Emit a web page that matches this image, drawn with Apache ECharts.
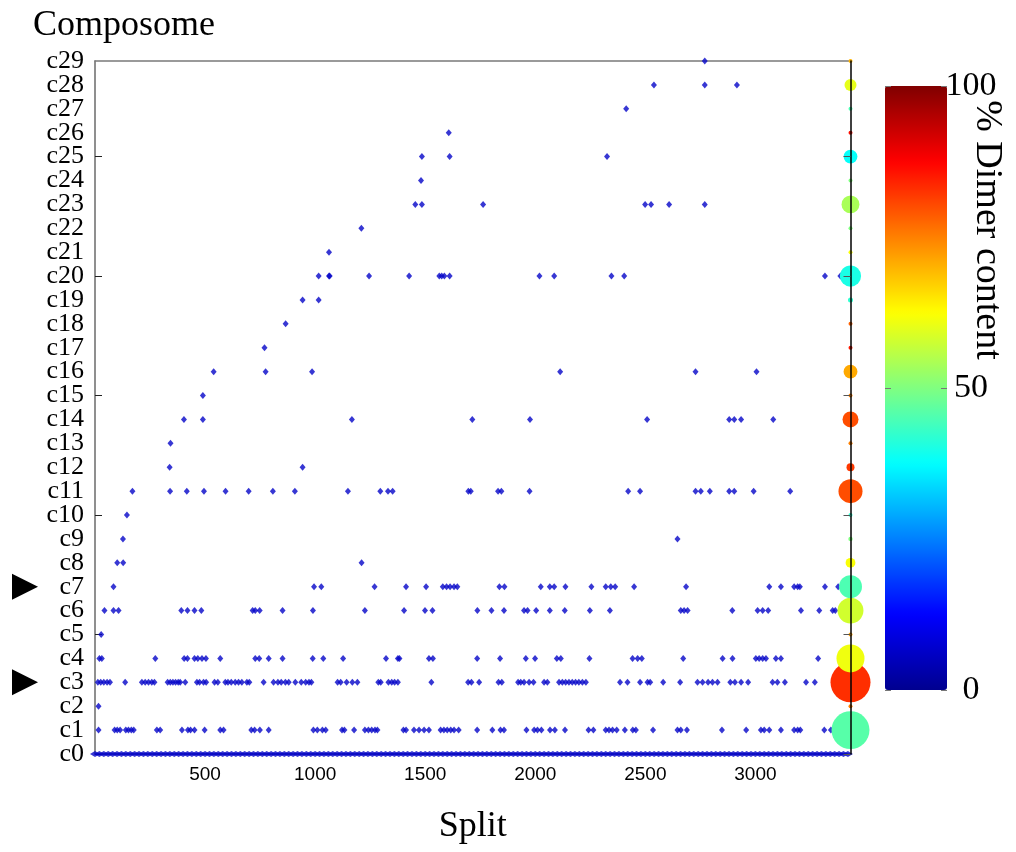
<!DOCTYPE html>
<html><head><meta charset="utf-8">
<script src="https://cdn.jsdelivr.net/npm/echarts@6/dist/echarts.min.js"></script>
<style>html,body{margin:0;padding:0;background:#fff}#c{width:1016px;height:852px}</style>
</head><body><div id="c"></div>
<script>
// ---------- data ----------
const composomes = ['c0','c1','c2','c3','c4','c5','c6','c7','c8','c9','c10','c11','c12','c13','c14','c15','c16','c17','c18','c19','c20','c21','c22','c23','c24','c25','c26','c27','c28','c29'];
const xTickLabels = [500, 1000, 1500, 2000, 2500, 3000];
const colorbarTicks = [0, 50, 100];
const arrowRows = ['c7', 'c3'];
const splitMax = 3432;

// split positions at which each composome is observed
const c0 = [0,20,40,60,80,100,120,140,160,180,200,220,240,260,280,300,320,340,360,380,400,420,440,460,480,500,520,540,560,580,600,620,640,660,680,700,720,740,760,780,800,820,840,860,880,900,920,940,960,980,1000,1020,1040,1060,1080,1100,1120,1140,1160,1180,1200,1220,1240,1260,1280,1300,1320,1340,1360,1380,1400,1420,1440,1460,1480,1500,1520,1540,1560,1580,1600,1620,1640,1660,1680,1700,1720,1740,1760,1780,1800,1820,1840,1860,1880,1900,1920,1940,1960,1980,2000,2020,2040,2060,2080,2100,2120,2140,2160,2180,2200,2220,2240,2260,2280,2300,2320,2340,2360,2380,2400,2420,2440,2460,2480,2500,2520,2540,2560,2580,2600,2620,2640,2660,2680,2700,2720,2740,2760,2780,2800,2820,2840,2860,2880,2900,2920,2940,2960,2980,3000,3020,3040,3060,3080,3100,3120,3140,3160,3180,3200,3220,3240,3260,3280,3300,3320,3340,3360,3380,3400,3420];
const c1 = [16,89,101,114,140,152,165,176,281,296,395,422,434,452,498,569,584,710,725,749,789,992,1010,1033,1048,1122,1133,1177,1226,1242,1257,1272,1283,1401,1413,1449,1472,1495,1517,1570,1585,1600,1616,1631,1652,1736,1805,1842,1858,1960,1995,2010,2028,2067,2089,2135,2242,2264,2320,2335,2351,2370,2407,2443,2457,2535,2646,2661,2689,2848,2958,3025,3040,3063,3116,3176,3192,3204,3313,3343];
const c2 = [16];
const c3 = [13,26,40,55,68,137,213,228,243,258,270,330,342,354,366,378,387,410,463,475,493,505,543,558,592,604,619,637,652,667,690,701,766,811,831,846,865,880,910,937,957,972,983,1102,1116,1143,1169,1192,1287,1298,1333,1348,1361,1376,1528,1695,1710,1745,1833,1848,1922,1934,1949,1972,1992,2040,2055,2108,2123,2138,2153,2168,2183,2198,2214,2230,2385,2419,2476,2510,2522,2581,2658,2737,2760,2785,2805,2828,2886,2907,2935,2967,3078,3100,3134,3230,3270];
const c4 = [20,31,274,405,420,452,467,486,504,569,728,746,789,852,989,1037,1127,1322,1376,1383,1517,1535,1736,1840,1957,1999,2098,2116,2246,2442,2465,2484,2672,2851,2896,3002,3017,3033,3048,3093,3116,3285];
const c5 = [28];
const c6 = [43,84,107,392,420,452,483,716,728,748,852,990,1226,1404,1499,1533,1737,1801,1858,1949,1965,2004,2066,2134,2248,2339,2661,2676,2692,2895,3010,3033,3058,3207,3290,3351,3363];
const c7 = [84,995,1028,1270,1413,1504,1580,1597,1613,1631,1646,1837,1860,2025,2066,2086,2137,2255,2320,2343,2363,2449,2685,3063,3116,3176,3192,3202,3316,3376];
const c8 = [101,128,1211];
const c9 = [127,2646];
const c10 = [145];
const c11 = [170,341,417,495,593,698,808,908,1149,1296,1331,1352,1696,1707,1831,1846,1974,2422,2476,2728,2752,2793,2881,2904,2992,3158];
const c12 = [339,943];
const c13 = [343];
const c14 = [404,490,1167,1714,1976,2508,2881,2904,2935,3081];
const c15 = [490];
const c16 = [539,775,986,2113,2728,3005];
const c17 = [770];
const c18 = [866];
const c19 = [943,1016];
const c20 = [1016,1063,1066,1245,1427,1564,1575,1587,1611,2019,2086,2346,2404,3316,3386];
const c21 = [1063];
const c22 = [1210];
const c23 = [1455,1485,1763,2499,2526,2608,2770];
const c24 = [1481];
const c25 = [1485,1611,2326];
const c26 = [1607];
const c27 = [2413];
const c28 = [2539,2770,2916];
const c29 = [2770];

// summary per composome: % dimer content and relative abundance
const dimerContent = [null,46,75,83,61,72,58,45,62,50,42,80,82,75,80,75,71,85,78,42,40,62,50,54,50,38,86,45,60,70];
const abundance    = [null,90,1,100,49,1,42,33,6,1.2,1,36,4,1,16,1,12,1,1,1.6,28,1,1,20,1,12,1,1,9,1];

// ---------- build ----------
const rows = [c1,c2,c3,c4,c5,c6,c7,c8,c9,c10,c11,c12,c13,c14,c15,c16,c17,c18,c19,c20,c21,c22,c23,c24,c25,c26,c27,c28,c29];
const points = [];
rows.forEach((r, i) => r.forEach(x => points.push([x, i + 1])));
const basePoints = c0.map(x => [x, 0]);
const bubbles = [];
composomes.forEach((c, i) => { if (dimerContent[i] != null) bubbles.push([splitMax, i, dimerContent[i], abundance[i]]); });

const jet = ['#00008f','#0000ff','#0080ff','#00ffff','#80ff80','#ffff00','#ff8000','#ff0000','#800000'];
const serif = '"Liberation Serif", "Times New Roman", serif';
const sans = '"Liberation Sans", Arial, sans-serif';
const every5 = (i) => i % 5 === 0;
const dimerLabel = {type: 'text', x: 987, y: 230, rotation: -Math.PI / 2,
  style: {text: '% Dimer content', font: '38px ' + serif, fill: '#000', align: 'center', verticalAlign: 'middle'}};

const chart = echarts.init(document.getElementById('c'), null, {renderer: 'canvas'});
chart.setOption({
  animation: false,
  backgroundColor: '#fff',
  title: {text: 'Composome', left: 33, top: 8, padding: 0,
    textStyle: {fontFamily: serif, fontSize: 36, fontWeight: 'normal', color: '#000'}},
  grid: [
    {left: 95, top: 61, width: 755.5, height: 693, outerBoundsMode: 'none', containLabel: false},
    {left: 885, top: 86, width: 62, height: 604, outerBoundsMode: 'none', containLabel: false}
  ],
  xAxis: [
    {gridIndex: 0, type: 'value', min: 0, max: splitMax, interval: 500, position: 'bottom',
     name: 'Split', nameLocation: 'middle', nameGap: 55,
     nameTextStyle: {fontFamily: serif, fontSize: 36, color: '#000'},
     axisLine: {show: true, onZero: false, lineStyle: {color: '#6a6a6a', width: 1.5}},
     axisTick: {inside: true, length: 7, lineStyle: {color: '#222'}},
     axisLabel: {fontFamily: sans, fontSize: 19, color: '#000', margin: 11, showMinLabel: false, showMaxLabel: false,
       formatter: v => xTickLabels.includes(v) ? String(v) : ''},
     splitLine: {show: false}},
    {gridIndex: 0, type: 'value', min: 0, max: splitMax, interval: 500, position: 'top',
     axisLine: {show: true, onZero: false, lineStyle: {color: '#7a7a7a', width: 1.5}},
     axisTick: {inside: true, length: 7, lineStyle: {color: '#222'}},
     axisLabel: {show: false}, splitLine: {show: false}},
    {gridIndex: 1, type: 'value', show: false, min: 0, max: 1, axisLine: {onZero: false}}
  ],
  yAxis: [
    {gridIndex: 0, type: 'category', data: composomes, boundaryGap: false, position: 'left',
     axisLine: {show: true, onZero: false, lineStyle: {color: '#6a6a6a', width: 1.5}},
     axisTick: {inside: true, length: 7, interval: every5, lineStyle: {color: '#222'}},
     axisLabel: {interval: 0, hideOverlap: false, fontFamily: serif, fontSize: 26, color: '#000', margin: 11},
     splitLine: {show: false}},
    {gridIndex: 0, type: 'category', data: composomes, boundaryGap: false, position: 'right', z: 6,
     axisLine: {show: true, onZero: false, lineStyle: {color: '#000', width: 1.5}},
     axisTick: {inside: true, length: 7, interval: every5, lineStyle: {color: '#555'}},
     axisLabel: {show: false}, splitLine: {show: false}},
    {gridIndex: 1, type: 'value', min: 0, max: 100, interval: 50, position: 'right', z: 10,
     axisLine: {show: false, onZero: false},
     axisTick: {show: true, inside: true, length: 6, lineStyle: {color: '#777'}},
     axisLabel: {fontFamily: serif, fontSize: 34, color: '#000', align: 'center', margin: 24,
       formatter: v => colorbarTicks.includes(v) ? String(v) : ''},
     splitLine: {show: false}},
    {gridIndex: 1, type: 'value', min: 0, max: 100, interval: 50, position: 'left', z: 10,
     axisLine: {show: false, onZero: false},
     axisTick: {show: true, inside: true, length: 6, lineStyle: {color: '#777'}},
     axisLabel: {show: false}, splitLine: {show: false}}
  ],
  visualMap: {
    type: 'continuous', min: 0, max: 100, dimension: 2, seriesIndex: 2,
    inRange: {color: jet}, calculable: false, hoverLink: false, realtime: false,
    itemWidth: 62, itemHeight: 604, left: 885, top: 86, padding: 0, text: null, showLabel: false
  },
  series: [
    {type: 'scatter', xAxisIndex: 0, yAxisIndex: 0, data: basePoints, symbol: 'diamond', symbolSize: [10, 6],
     itemStyle: {color: '#0505c8'}, silent: true, z: 2},
    {type: 'scatter', xAxisIndex: 0, yAxisIndex: 0, data: points, symbol: 'diamond', symbolSize: [6, 7],
     itemStyle: {color: '#0505c8'}, silent: true, z: 2},
    {type: 'scatter', xAxisIndex: 0, yAxisIndex: 0, data: bubbles, symbol: 'circle',
     symbolSize: v => 4 * Math.sqrt(v[3]), itemStyle: {opacity: 1}, silent: true, z: 3}
  ],
  graphic: [dimerLabel]
});

// arrow markers pointing at the highlighted composomes
const arrows = arrowRows.map(name => {
  const y = chart.convertToPixel({yAxisIndex: 0}, name);
  return {type: 'polygon', shape: {points: [[12, y - 13], [38, y], [12, y + 13]]}, style: {fill: '#000'}};
});
chart.setOption({graphic: [dimerLabel].concat(arrows)}, {replaceMerge: ['graphic']});
</script></body></html>
